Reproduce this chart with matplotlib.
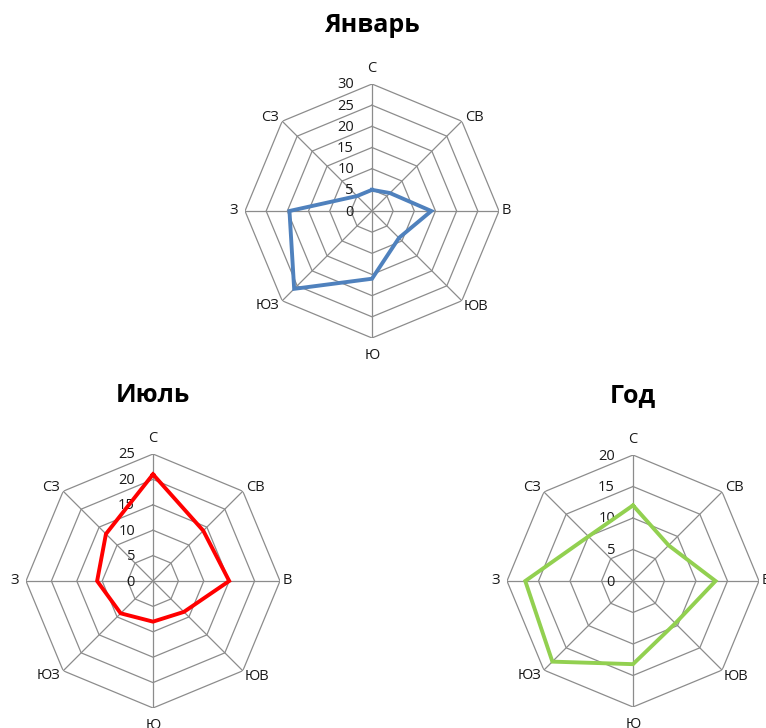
import numpy as np
import matplotlib
matplotlib.use("Agg")
import matplotlib.pyplot as plt

plt.rcParams['font.family'] = ['Open Sans', 'DejaVu Sans']

directions = ['С', 'СВ', 'В', 'ЮВ', 'Ю', 'ЮЗ', 'З', 'СЗ']
jan_values = [5, 6, 14, 9, 16, 26, 19.5, 5]
jul_values = [21, 14, 15, 8.6, 8, 9, 11, 13.1]
year_values = [12, 8, 13.1, 9.5, 13.2, 18.1, 17.1, 10]

jan_ticks = [0, 5, 10, 15, 20, 25, 30]
jul_ticks = [0, 5, 10, 15, 20, 25]
year_ticks = [0, 5, 10, 15, 20]

W, H = 766, 728
fig = plt.figure(figsize=(W / 100, H / 100), dpi=100)
fig.patch.set_facecolor('white')

GRID = '#8c8c8c'
LBL = 10.5


def radar(cx, cy, rad, values, ticks, color, title, title_y):
    ax = fig.add_axes([(cx - rad) / W, (H - cy - rad) / H, 2 * rad / W, 2 * rad / H],
                      projection='polar')
    ax.set_theta_zero_location('N')
    ax.set_theta_direction(-1)
    ax.set_ylim(0, ticks[-1])
    ax.grid(False)
    ax.spines['polar'].set_visible(False)
    ax.set_xticks([])
    ax.set_yticks([])
    ax.patch.set_alpha(0)
    n = len(directions)
    th = np.arange(n) * 2 * np.pi / n
    thc = np.append(th, th[0])
    for t in ticks[1:]:
        ax.plot(thc, [t] * (n + 1), color=GRID, lw=0.9, zorder=1)
    for a in th:
        ax.plot([a, a], [0, ticks[-1]], color=GRID, lw=0.9, zorder=1)
    vals = list(values) + [values[0]]
    ax.plot(thc, vals, color=color, lw=2.8, zorder=3, solid_joinstyle='miter')
    # radial tick labels
    for t in ticks:
        ax.annotate(str(t), xy=(0, t), xytext=(-18, -1), textcoords='offset pixels',
                    ha='right', va='center', fontsize=LBL, color='#1a1a1a', zorder=2)
    # category labels
    specs = {
        0: ((0, 8), 'center', 'bottom'),
        1: ((3, 4), 'left', 'center'),
        2: ((3, 0), 'left', 'center'),
        3: ((2, -6), 'left', 'center'),
        4: ((0, -10), 'center', 'top'),
        5: ((-3, -5), 'right', 'center'),
        6: ((-7, 0), 'right', 'center'),
        7: ((-3, 4), 'right', 'center'),
    }
    for i, (a, name) in enumerate(zip(th, directions)):
        off, ha, va = specs[i]
        ax.annotate(name, xy=(a, ticks[-1]), xytext=off, textcoords='offset pixels',
                    ha=ha, va=va, fontsize=LBL, color='#1a1a1a', annotation_clip=False)
    fig.text(cx / W, 1 - title_y / H, title, ha='center', va='center',
             fontsize=18, fontweight='bold', color='black')
    return ax


radar(372, 211, 127, jan_values, jan_ticks, '#4f81bd', 'Январь', 25)
radar(153, 581, 127, jul_values, jul_ticks, '#ff0000', 'Июль', 396)
radar(633, 581, 126, year_values, year_ticks, '#92d050', 'Год', 396)

fig.savefig('out.png', dpi=100, facecolor='white')
